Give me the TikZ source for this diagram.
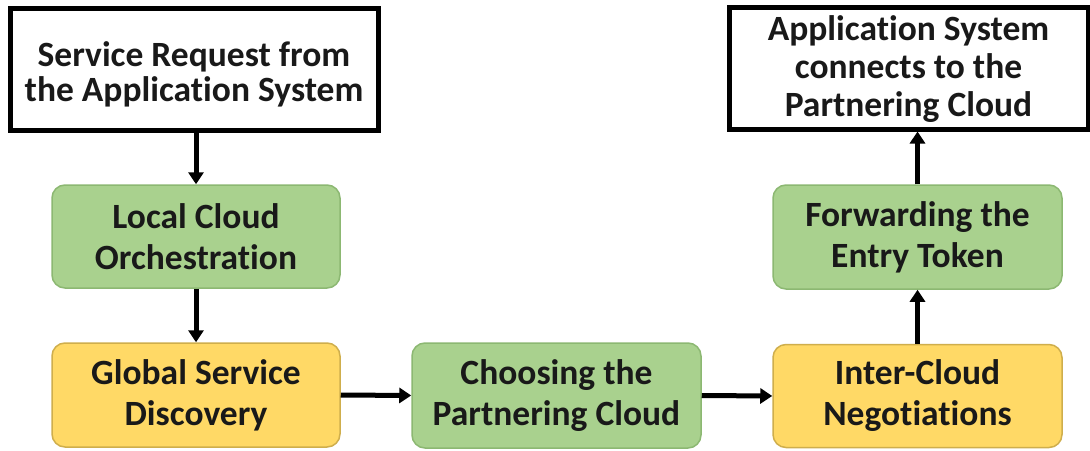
\documentclass[tikz,border=0pt]{standalone}
\usepackage{fontspec}
\setmainfont{Carlito}[Ligatures=NoCommon]
\usetikzlibrary{arrows.meta}
\definecolor{greenfill}{HTML}{A9D18E}
\definecolor{greenedge}{HTML}{8CB872}
\definecolor{yellowfill}{HTML}{FFD966}
\definecolor{yellowedge}{HTML}{CFAE4C}
\begin{document}
\begin{tikzpicture}[x=1pt,y=-1pt,
  every node/.style={font=\fontsize{35.5}{41}\selectfont\bfseries, align=center, text=black!90, inner sep=0pt},
  plainbox/.style={draw=black, fill=white, line width=5pt},
  greenbox/.style={draw=greenedge, fill=greenfill, line width=1.5pt, rounded corners=13pt},
  yellowbox/.style={draw=yellowedge, fill=yellowfill, line width=1.5pt, rounded corners=13pt},
  flow/.style={line width=5pt, -{Triangle[length=12pt,width=15pt]}}
]
\useasboundingbox (0,0) rectangle (1090,450);
\fill[white] (0,0) rectangle (1090,450);

% start and end boxes
\node[plainbox, minimum width=368pt, minimum height=122pt,
      font=\fontsize{35.5}{34}\selectfont\bfseries] (req) at (194,69)
  {\raisebox{-8pt}[\height][\depth]{\begin{tabular}{@{}c@{}}Service Request from\\the Application System\end{tabular}}};
\node[plainbox, minimum width=359pt, minimum height=122pt,
      font=\fontsize{35.5}{38}\selectfont\bfseries] (conn) at (908.5,68)
  {\raisebox{-3pt}[\height][\depth]{\begin{tabular}{@{}c@{}}Application System\\connects to the\\Partnering Cloud\end{tabular}}};

% process steps
\node[greenbox, minimum width=288pt, minimum height=103pt] (local) at (196,236.5)
  {Local Cloud\\Orchestration};
\node[yellowbox, minimum width=288pt, minimum height=104pt] (global) at (196,395)
  {Global Service\\Discovery};
\node[greenbox, minimum width=289pt, minimum height=105pt] (choose) at (556.5,395.5)
  {Choosing the\\Partnering Cloud};
\node[yellowbox, minimum width=289pt, minimum height=103pt] (inter) at (917.5,396)
  {Inter-Cloud\\Negotiations};
\node[greenbox, minimum width=289pt, minimum height=104pt] (fwd) at (917.5,237)
  {Forwarding the\\Entry Token};

% connectors
\draw[flow] (req.south -| local.north) -- (local.north);
\draw[flow] (local) -- (global);
\draw[flow] (global.east) -- (choose.west);
\draw[flow] (choose.east) -- (inter.west);
\draw[flow] (inter) -- (fwd);
\draw[flow] (fwd.north) -- (fwd.north |- conn.south);
\end{tikzpicture}
\end{document}
